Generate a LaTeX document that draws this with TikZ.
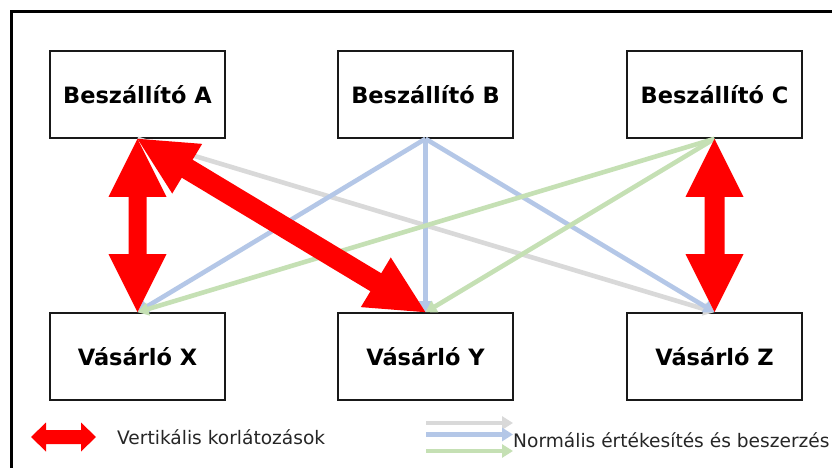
\documentclass[tikz,border=0pt]{standalone}
\usepackage{fontspec}
\setmainfont{DejaVu Sans}
\usetikzlibrary{arrows.meta,calc}
\definecolor{lgrey}{HTML}{D9D9D9}
\definecolor{lblue}{HTML}{B4C7E7}
\definecolor{lgreen}{HTML}{C5E0B4}
\definecolor{txt}{HTML}{262626}
\tikzset{
  box/.style={draw=black!90, line width=1.6pt, fill=white, minimum width=175pt, minimum height=87pt, inner sep=0pt,
    font=\fontsize{22.5}{26}\selectfont\bfseries},
  flow/.style={line width=4.6pt, -{Triangle[width=13pt,length=11pt]}},
  legtxt/.style={anchor=west, inner sep=0pt, text=txt, font=\fontsize{18.6}{21}\selectfont},
  redfill/.style={fill=red, draw=none}
}
\newcommand\redarrow[5]{% #1 start, #2 end, #3 shaft half, #4 head half, #5 head length
  \path[redfill]
    (#1) -- ($($(#1)!#5!(#2)$)!#4!90:(#2)$) -- ($($(#1)!#5!(#2)$)!#3!90:(#2)$)
    -- ($($(#2)!#5!(#1)$)!#3!-90:(#1)$) -- ($($(#2)!#5!(#1)$)!#4!-90:(#1)$)
    -- (#2) -- ($($(#2)!#5!(#1)$)!#4!90:(#1)$) -- ($($(#2)!#5!(#1)$)!#3!90:(#1)$)
    -- ($($(#1)!#5!(#2)$)!#3!-90:(#2)$) -- ($($(#1)!#5!(#2)$)!#4!-90:(#2)$) -- cycle;
}
\begin{document}
\begin{tikzpicture}[x=1pt,y=-1pt]
\useasboundingbox (0,0) rectangle (832,468);
\clip (0,0) rectangle (832,468);
\fill[white] (0,0) rectangle (832,468);
\draw[line width=3pt] (11.5,480) -- (11.5,11.5) -- (845,11.5);
% boxes
\node[box] (A) at (137.5,94.5) {Beszállító A};
\node[box] (B) at (425.5,94.5) {Beszállító B};
\node[box] (C) at (714.5,94.5) {Beszállító C};
\node[box] (X) at (137.5,356.5) {Vásárló X};
\node[box] (Y) at (425.5,356.5) {Vásárló Y};
\node[box] (Z) at (714.5,356.5) {Vásárló Z};
% normal flows
\draw[flow, lgrey] (A.south) -- (Z.north);
\draw[flow, lblue] (B.south) -- (X.north);
\draw[flow, lblue] (B.south) -- (Y.north);
\draw[flow, lblue] (B.south) -- (Z.north);
\draw[flow, lgreen] (C.south) -- (X.north);
\draw[flow, lgreen] (C.south) -- (Y.north);
% vertical constraints
\redarrow{A.south}{X.north}{9pt}{29pt}{58pt}
\redarrow{C.south}{Z.north}{10pt}{29pt}{58pt}
\redarrow{A.south}{Y.north}{10.5pt}{29pt}{58pt}
% legend
\coordinate (l1) at (31,437);
\coordinate (l2) at (96,437);
\redarrow{l1}{l2}{7pt}{14.5pt}{15pt}
\node[legtxt] (lt1) at (117,437) {Vertikális korlátozások};
\coordinate (g1) at (426,423); \coordinate (g2) at (513,423);
\coordinate (b1) at (426,434.5); \coordinate (b2) at (513,434.5);
\coordinate (e1) at (426,451); \coordinate (e2) at (513,451);
\draw[flow, lgrey] (g1) -- (g2);
\draw[flow, lblue] (b1) -- (b2);
\draw[flow, lgreen] (e1) -- (e2);
\node[legtxt] (lt2) at (513,440) {Normális értékesítés és beszerzés};
\end{tikzpicture}
\end{document}
